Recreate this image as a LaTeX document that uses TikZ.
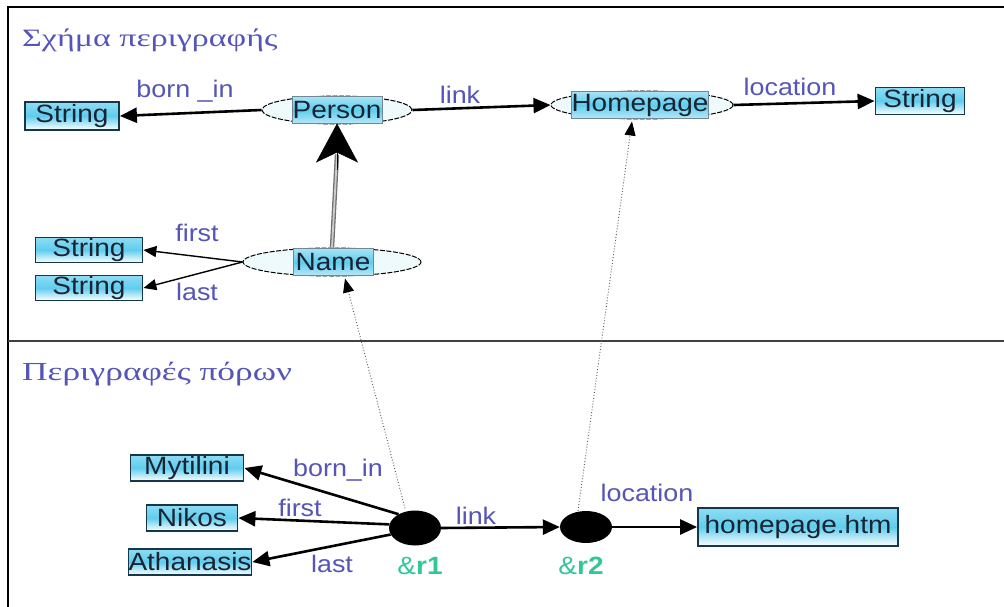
\documentclass[tikz,border=0pt]{standalone}
\usepackage{fontspec}
\setmainfont{Liberation Sans}
\newfontfamily\lab[FakeStretch=1.12]{Liberation Sans}
\newfontfamily\ttlA[FakeStretch=1.36]{Liberation Serif}
\usetikzlibrary{arrows.meta,shapes.geometric,calc}
\definecolor{lblue}{RGB}{85,85,185}
\definecolor{rgreen}{RGB}{50,200,150}
\definecolor{boxc}{RGB}{20,55,75}
\definecolor{cyn}{RGB}{95,205,238}
\definecolor{txt}{RGB}{25,35,50}
\begin{document}
\begin{tikzpicture}[x=1pt,y=-1pt,
  box/.style={draw=boxc, line width=1.8pt, top color=cyn!70!white, bottom color=white, middle color=cyn,
    inner sep=0pt, text=txt, font=\lab\fontsize{25}{25}\selectfont},
  ell/.style={ellipse, draw=black, dash pattern=on 5pt off 1.5pt, line width=1pt, fill=cyn!10, inner sep=0pt, minimum height=28},
  etx/.style={top color=cyn!55!white, bottom color=cyn!45!white, middle color=cyn, draw=boxc!60, line width=0.6pt,
    inner sep=0pt, minimum height=27, text=txt, font=\lab\fontsize{25}{25}\selectfont},
  lbl/.style={text=lblue, inner sep=0pt, font=\lab\fontsize{24}{24}\selectfont},
  rlbl/.style={text=rgreen, inner sep=0pt, font=\lab\fontsize{25}{25}\selectfont},
  ttlstyle/.style={text=lblue, inner sep=0pt, anchor=base west},
  blk/.style={ellipse, fill=black, inner sep=0pt},
  arr/.style={line width=2.6pt, -{Triangle[length=17pt,width=15pt]}},
  tarr/.style={line width=1.4pt, -{Triangle[length=13pt,width=11pt]}},
  dotl/.style={dotted, line width=0.9pt, draw=black!65, -{Triangle[length=14pt,width=11pt,black]}}
]
\useasboundingbox (0,0) rectangle (1004,607);
\fill[white] (0,0) rectangle (1004,607);
% frame and separator
\draw[line width=2.2pt] (8,607) -- (8,7) -- (1004,7);
\draw[line width=2pt, black!75] (8,341) -- (1004,341);

% titles
\node[ttlstyle, font=\ttlA\fontsize{25}{25}\selectfont] (t1) at (22,47) {Σχήμα περιγραφής};
\node[ttlstyle, font=\ttlA\fontsize{26}{26}\selectfont] (t2) at (22,380) {Περιγραφές πόρων};

% schema nodes
\node[box, minimum width=94, minimum height=28] (s1) at (72,116) {String};
\node[ell, minimum width=150] (ps) at (337,110) {};
\node[etx, minimum width=90] (pst) at (337,110) {Person};
\node[ell, minimum width=182] (hp) at (642,105) {};
\node[etx, minimum width=116] (hpt) at (640,105) {Homepage};
\node[box, minimum width=89, minimum height=27] (s2) at (920,101) {String};
\node[ell, minimum width=178] (nm) at (332,262) {};
\node[etx, minimum width=80] (nmt) at (333,262) {Name};
\node[box, minimum width=107, minimum height=25] (n1) at (89,250) {String};
\node[box, minimum width=107, minimum height=25] (n2) at (89,288) {String};

% schema labels
\node[lbl] (lb1) at (185,91) {born \_in};
\node[lbl] (lb2) at (460,95) {link};
\node[lbl] (lb3) at (790,87) {location};
\node[lbl] (lb4) at (197,233) {first};
\node[lbl] (lb5) at (197,292) {last};

% schema edges
\draw[arr] (ps.west) -- (s1.east);
\draw[arr] (ps.east) -- (hp.west);
\draw[arr] (hp.east) -- (s2.west);
\draw[tarr] (nm.west) -- (n1.east);
\draw[tarr] (nm.west) -- (n2.east);
\draw[draw=black!55, double=black!20, double distance=1.8pt, line width=1.3pt] (nm.north) -- ($(ps.south)+(0,30)$);
\draw[line width=0.4pt, -{Stealth[length=39pt,width=42pt,inset=10pt]}] ($(ps.south)+(0,45)$) -- ($(ps.south)+(0,-1)$);

% resource nodes
\node[box, minimum width=113, minimum height=26] (my) at (187,468) {Mytilini};
\node[box, minimum width=91, minimum height=26] (nk) at (192,518) {Nikos};
\node[box, minimum width=115, minimum height=26] (at) at (190,562) {Athanasis};
\node[blk, minimum width=52, minimum height=35] (r1) at (415,528) {};
\node[blk, minimum width=52, minimum height=32] (r2) at (586,527) {};
\node[box, minimum width=200, minimum height=38] (hf) at (798,527) {homepage.htm};

% resource labels
\node[lbl] (lr1) at (338,470) {born\_in};
\node[lbl] (lr2) at (300,508) {first};
\node[lbl] (lr3) at (332,564) {last};
\node[lbl] (lr4) at (476,516) {link};
\node[lbl] (lr5) at (647,493) {location};
\node[rlbl] (a1) at (420,566) {\&\textbf{r1}};
\node[rlbl] (a2) at (581,566) {\&\textbf{r2}};

% resource edges
\draw[arr] (r1.140) -- (my.east);
\draw[arr] (r1.172) -- (nk.east);
\draw[arr] (r1.195) -- (at.east);
\draw[arr] (r1.east) -- (r2.west);
\draw[arr] (r2.east) -- (hf.west);

% dotted instance links
\draw[dotl] ($(r1.north)+(-10,-2)$) -- ($(nm.south)+(13,2)$);
\draw[dotl] ($(r2.north)+(-8,0)$) -- ($(hp.south)+(-10,2)$);
\end{tikzpicture}
\end{document}
